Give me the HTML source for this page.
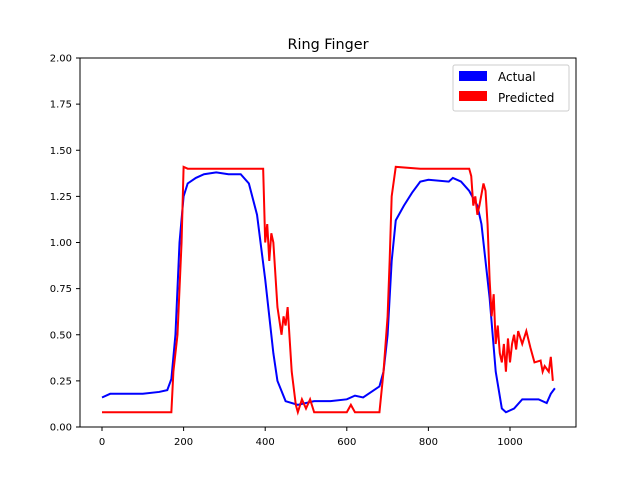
<!DOCTYPE html>
<html><head><meta charset="utf-8"><style>
body{margin:0;background:#fff;}
svg text{font-family:"DejaVu Sans","Liberation Sans",sans-serif;}
</style></head><body>
<svg id="chart" width="640" height="480" viewBox="0 0 640 480" xmlns="http://www.w3.org/2000/svg">
<rect width="640" height="480" fill="#fff"/>
<text x="328" y="49" font-size="14.4" text-anchor="middle" fill="#000">Ring Finger</text>
<g id="series"></g>
<g id="axes"></g>
<g>
<rect x="453" y="65" width="116" height="46" rx="2" fill="#fff" fill-opacity="0.8" stroke="#ccc"/>
<rect x="459" y="71" width="28" height="10" fill="#0000ff"/>
<text x="498" y="81" font-size="12">Actual</text>
<rect x="459" y="91" width="28" height="10" fill="#ff0000"/>
<text x="498" y="102" font-size="12">Predicted</text>
</g>
</svg>
<script>
const xTicks=[0,200,400,600,800,1000];
const yTicks=[0,0.25,0.5,0.75,1.0,1.25,1.5,1.75,2.0];
const actualX=[0,20,50,100,140,160,170,180,190,200,210,230,250,280,310,340,360,380,400,420,430,450,480,520,560,600,620,640,660,680,690,700,710,720,740,760,780,800,850,860,880,900,920,930,950,965,980,990,1010,1030,1070,1090,1100,1110];
const actualY=[0.16,0.18,0.18,0.18,0.19,0.2,0.26,0.5,1.0,1.25,1.32,1.35,1.37,1.38,1.37,1.37,1.32,1.15,0.8,0.4,0.25,0.14,0.12,0.14,0.14,0.15,0.17,0.16,0.19,0.22,0.3,0.5,0.9,1.12,1.2,1.27,1.33,1.34,1.33,1.35,1.33,1.28,1.2,1.1,0.7,0.3,0.1,0.08,0.1,0.15,0.15,0.13,0.18,0.21];
const predX=[0,170,175,185,195,200,210,390,395,400,405,410,415,420,430,440,445,450,455,465,475,480,490,500,510,520,600,610,620,680,690,700,705,710,720,780,900,905,910,915,920,925,935,940,945,950,955,960,965,970,975,980,985,990,995,1000,1005,1010,1015,1020,1030,1040,1050,1060,1075,1080,1085,1095,1100,1105];
const predY=[0.08,0.08,0.3,0.5,1.0,1.41,1.4,1.4,1.4,1.0,1.1,0.9,1.05,1.0,0.65,0.5,0.6,0.55,0.65,0.3,0.12,0.08,0.15,0.1,0.15,0.08,0.08,0.12,0.08,0.08,0.3,0.6,0.9,1.25,1.41,1.4,1.4,1.36,1.2,1.25,1.15,1.2,1.32,1.28,1.1,0.8,0.6,0.72,0.45,0.55,0.4,0.35,0.45,0.3,0.48,0.35,0.45,0.5,0.42,0.52,0.45,0.52,0.43,0.35,0.36,0.3,0.33,0.3,0.38,0.25];
const X=v=>102+v*0.408, Y=v=>427-v*184.5;
const NS="http://www.w3.org/2000/svg";
const series=document.getElementById('series'), axes=document.getElementById('axes');
function line(xs,ys,color,name){
  const p=document.createElementNS(NS,'polyline');
  p.setAttribute('points',xs.map((x,i)=>X(x)+','+Y(ys[i])).join(' '));
  p.setAttribute('fill','none');p.setAttribute('stroke',color);p.setAttribute('stroke-width','2');
  
  
  series.appendChild(p);
}
line(actualX,actualY,'#0000ff','actual-line');
line(predX,predY,'#ff0000','predicted-line');
const frame=document.createElementNS(NS,'rect');
frame.setAttribute('x',80);frame.setAttribute('y',58);frame.setAttribute('width',496);frame.setAttribute('height',369);
frame.setAttribute('fill','none');frame.setAttribute('stroke','#000');frame.setAttribute('stroke-width','1');


axes.appendChild(frame);
xTicks.forEach(t=>{
  const l=document.createElementNS(NS,'line');
  l.setAttribute('x1',X(t));l.setAttribute('x2',X(t));l.setAttribute('y1',427);l.setAttribute('y2',431);l.setAttribute('stroke','#000');
  
  
  axes.appendChild(l);
  const tx=document.createElementNS(NS,'text');
  tx.setAttribute('x',X(t));tx.setAttribute('y',445);tx.setAttribute('font-size','10');tx.setAttribute('text-anchor','middle');
  tx.textContent=t;
  
  
  axes.appendChild(tx);
});
yTicks.forEach(t=>{
  const l=document.createElementNS(NS,'line');
  l.setAttribute('x1',76);l.setAttribute('x2',80);l.setAttribute('y1',Y(t));l.setAttribute('y2',Y(t));l.setAttribute('stroke','#000');
  
  
  axes.appendChild(l);
  const tx=document.createElementNS(NS,'text');
  tx.setAttribute('x',72);tx.setAttribute('y',Y(t)+3.5);tx.setAttribute('font-size','10');tx.setAttribute('text-anchor','end');
  tx.textContent=t.toFixed(2);
  
  
  axes.appendChild(tx);
});
</script>
</body></html>
